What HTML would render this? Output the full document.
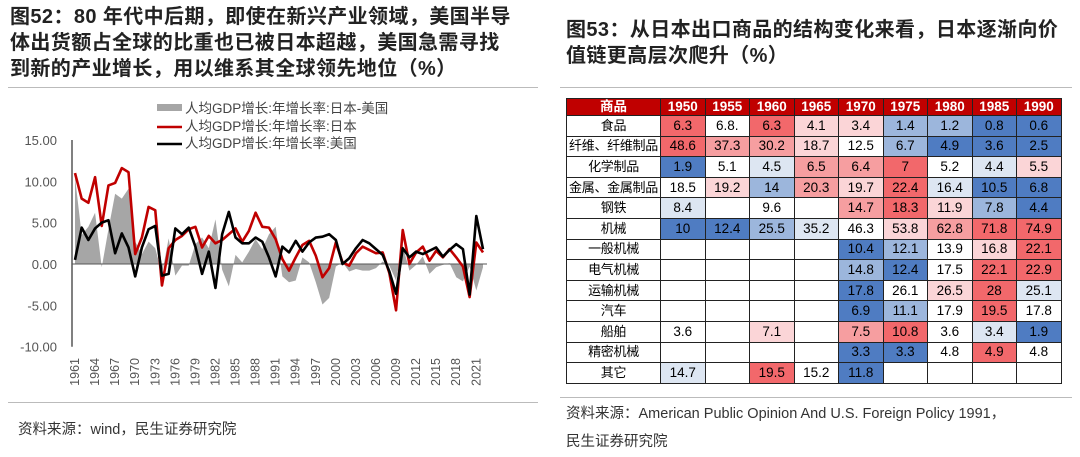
<!DOCTYPE html>
<html><head><meta charset="utf-8">
<style>
body{margin:0;width:1080px;height:457px;background:#fff;font-family:"Liberation Sans","Noto Sans CJK SC",sans-serif;position:relative;overflow:hidden}
.t{position:absolute;font-weight:bold;color:#222;font-size:20px;line-height:26px;white-space:nowrap;letter-spacing:0.4px}
.src{position:absolute;color:#333;font-size:14.5px;line-height:28px;white-space:nowrap}
.hr{position:absolute;height:1px;background:#bbb}
table{position:absolute;left:566px;top:98px;width:495px;table-layout:fixed;border-collapse:collapse;font-size:13.5px;font-family:"Liberation Sans","Noto Sans CJK SC",sans-serif}
td,th{border:1px solid #222;text-align:center;padding:0;height:19.6px;line-height:14px;white-space:nowrap;overflow:hidden}
th{background:#c00000;color:#fff;font-weight:bold;height:16px;font-size:13.5px}
td:first-child{font-size:13px;letter-spacing:-0.3px}
.r3{background:#f2686b}.r2{background:#f69ea0}.r1{background:#fbd5d7}.w{background:#fff}.b1{background:#dde6f2}.b2{background:#9cb6dc}.b3{background:#4f7cc2}
</style></head><body>
<div class="t" style="left:10px;top:4px">图52：80 年代中后期，即使在新兴产业领域，美国半导<br>体出货额占全球的比重也已被日本超越，美国急需寻找<br>到新的产业增长，用以维系其全球领先地位（%）</div>
<div class="t" style="left:566px;top:17px">图53：从日本出口商品的结构变化来看，日本逐渐向价<br>值链更高层次爬升（%）</div>
<div class="hr" style="left:8px;top:87px;width:530px"></div>
<div class="hr" style="left:560px;top:87px;width:512px"></div>
<div class="hr" style="left:8px;top:402px;width:530px"></div>
<div class="hr" style="left:560px;top:397px;width:512px"></div>
<div class="src" style="left:18px;top:416px">资料来源：wind，民生证券研究院</div>
<div class="src" style="left:566px;top:400px">资料来源：American Public Opinion And U.S. Foreign Policy 1991，<br>民生证券研究院</div>

<svg id="chart" style="position:absolute;left:0;top:90px" width="545" height="310"></svg>

<table>
<colgroup><col style="width:94px"><col span="9" style="width:44.5px"></colgroup>
<tr><th>商品</th><th>1950</th><th>1955</th><th>1960</th><th>1965</th><th>1970</th><th>1975</th><th>1980</th><th>1985</th><th>1990</th></tr>
<tr><td>食品</td><td class="r3">6.3</td><td class="w">6.8.</td><td class="r3">6.3</td><td class="r1">4.1</td><td class="r1">3.4</td><td class="b2">1.4</td><td class="b2">1.2</td><td class="b3">0.8</td><td class="b3">0.6</td></tr>
<tr><td>纤维、纤维制品</td><td class="r3">48.6</td><td class="r2">37.3</td><td class="r2">30.2</td><td class="r1">18.7</td><td class="w">12.5</td><td class="b2">6.7</td><td class="b3">4.9</td><td class="b3">3.6</td><td class="b3">2.5</td></tr>
<tr><td>化学制品</td><td class="b3">1.9</td><td class="w">5.1</td><td class="b1">4.5</td><td class="r2">6.5</td><td class="r2">6.4</td><td class="r3">7</td><td class="w">5.2</td><td class="b1">4.4</td><td class="r1">5.5</td></tr>
<tr><td>金属、金属制品</td><td class="w">18.5</td><td class="r1">19.2</td><td class="b2">14</td><td class="r2">20.3</td><td class="r1">19.7</td><td class="r3">22.4</td><td class="b1">16.4</td><td class="b3">10.5</td><td class="b3">6.8</td></tr>
<tr><td>钢铁</td><td class="b1">8.4</td><td></td><td class="w">9.6</td><td></td><td class="r2">14.7</td><td class="r3">18.3</td><td class="r1">11.9</td><td class="b2">7.8</td><td class="b3">4.4</td></tr>
<tr><td>机械</td><td class="b3">10</td><td class="b3">12.4</td><td class="b2">25.5</td><td class="b1">35.2</td><td class="w">46.3</td><td class="r1">53.8</td><td class="r2">62.8</td><td class="r3">71.8</td><td class="r3">74.9</td></tr>
<tr><td>一般机械</td><td></td><td></td><td></td><td></td><td class="b3">10.4</td><td class="b2">12.1</td><td class="w">13.9</td><td class="r1">16.8</td><td class="r3">22.1</td></tr>
<tr><td>电气机械</td><td></td><td></td><td></td><td></td><td class="b2">14.8</td><td class="b3">12.4</td><td class="w">17.5</td><td class="r3">22.1</td><td class="r3">22.9</td></tr>
<tr><td>运输机械</td><td></td><td></td><td></td><td></td><td class="b3">17.8</td><td class="w">26.1</td><td class="r1">26.5</td><td class="r3">28</td><td class="b1">25.1</td></tr>
<tr><td>汽车</td><td></td><td></td><td></td><td></td><td class="b3">6.9</td><td class="b2">11.1</td><td class="w">17.9</td><td class="r3">19.5</td><td class="w">17.8</td></tr>
<tr><td>船舶</td><td class="w">3.6</td><td></td><td class="r1">7.1</td><td></td><td class="r2">7.5</td><td class="r3">10.8</td><td class="w">3.6</td><td class="b1">3.4</td><td class="b3">1.9</td></tr>
<tr><td>精密机械</td><td></td><td></td><td></td><td></td><td class="b3">3.3</td><td class="b3">3.3</td><td class="w">4.8</td><td class="r3">4.9</td><td class="w">4.8</td></tr>
<tr><td>其它</td><td class="b1">14.7</td><td></td><td class="r3">19.5</td><td class="w">15.2</td><td class="b3">11.8</td><td></td><td></td><td></td><td></td></tr>
</table>

<script>
const years=[];for(let y=1961;y<=2022;y++)years.push(y);
const japan=[11.0,7.9,7.4,10.5,4.6,9.5,9.8,11.6,11.1,1.2,3.2,6.9,6.5,-2.6,1.9,2.9,3.4,4.2,4.5,2.0,3.4,2.5,2.9,3.6,4.3,2.7,4.0,6.2,4.5,4.4,3.0,0.6,-0.8,0.8,2.3,2.8,1.0,-1.6,-0.5,2.6,0.2,-0.2,1.3,2.1,1.7,1.3,1.4,-1.1,-5.6,4.1,0.0,1.4,2.1,0.4,1.6,0.8,1.8,0.8,-0.3,-4.0,2.6,1.4];
const usa=[0.5,4.4,2.9,4.3,5.0,5.3,1.3,3.7,2.0,-1.5,2.0,4.2,4.6,-1.4,-1.2,4.3,3.6,4.4,2.1,-1.2,1.5,-2.9,3.6,6.3,3.2,2.5,2.5,3.2,2.7,0.8,-1.5,2.1,1.4,2.8,1.5,2.6,3.2,3.3,3.6,2.9,0.0,0.7,1.9,2.9,2.5,1.8,1.1,-0.9,-3.6,1.9,0.8,1.5,1.2,1.6,2.0,0.9,1.7,2.4,1.8,-3.7,5.8,1.8];
const yTicks=[15,10,5,0,-5,-10];
const ns="http://www.w3.org/2000/svg";
const svg=document.getElementById('chart');
const X=i=>75+i*(483-75)/(years.length-1);
const Y=v=>174-v*8.27;
function mk(t,a){const e=document.createElementNS(ns,t);for(const k in a)e.setAttribute(k,a[k]);svg.appendChild(e);return e;}
const diff=japan.map((v,i)=>v-usa[i]);
let d='M'+X(0)+','+Y(0);diff.forEach((v,i)=>d+=' L'+X(i)+','+Y(v));d+=' L'+X(diff.length-1)+','+Y(0)+' Z';
const area=mk('path',{d:d,fill:'#a6a6a6'});


mk('line',{x1:72,y1:Y(15),x2:72,y2:Y(-10),stroke:'#000','stroke-width':1});
mk('line',{x1:72,y1:Y(0),x2:487,y2:Y(0),stroke:'#555','stroke-width':1});
yTicks.forEach(v=>{const t=mk('text',{x:57,y:Y(v)+5,'text-anchor':'end','font-size':13,fill:'#555'});t.textContent=v.toFixed(2);

});
years.forEach((y,i)=>{if((y-1961)%3===0){const x=X(i)+4;const t=mk('text',{x:x,y:268,transform:`rotate(-90 ${x} 268)`,'text-anchor':'end','font-size':12.5,fill:'#555'});t.textContent=y;

}});
function line(arr,c,name){const p=mk('polyline',{points:arr.map((v,i)=>X(i)+','+Y(v)).join(' '),fill:'none',stroke:c,'stroke-width':2.6,'stroke-linejoin':'round'});

}
line(japan,'#c00000','japan-line');
line(usa,'#000','usa-line');
mk('rect',{x:157,y:14,width:25,height:7,fill:'#a6a6a6'});
mk('line',{x1:157,y1:37,x2:182,y2:37,stroke:'#c00000','stroke-width':2.6});
mk('line',{x1:157,y1:54,x2:182,y2:54,stroke:'#000','stroke-width':2.6});
[['人均GDP增长:年增长率:日本-美国',23],['人均GDP增长:年增长率:日本',41],['人均GDP增长:年增长率:美国',58]].forEach(a=>{const t=mk('text',{x:185,y:a[1],'font-size':13.5,fill:'#444'});t.textContent=a[0];

});
</script>
</body></html>
